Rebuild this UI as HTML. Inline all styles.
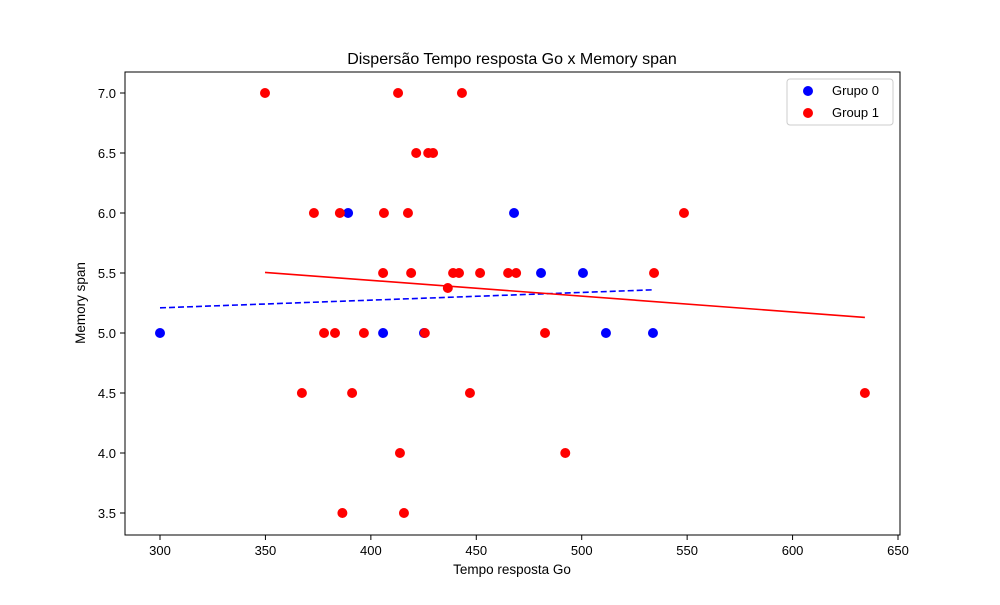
<!DOCTYPE html>
<html><head><meta charset="utf-8"><style>
body{margin:0;background:#fff;}
svg text{font-family:"Liberation Sans","DejaVu Sans",sans-serif;fill:#000;}
</style></head><body>
<svg id="chart" width="1000" height="600">
<rect x="0" y="0" width="1000" height="600" fill="#fff"/>
<text x="512" y="64" font-size="16" text-anchor="middle">Dispersão Tempo resposta Go x Memory span</text>
<g id="grid"></g>
<g id="marks"></g>
<rect x="125" y="72" width="775" height="463" fill="none" stroke="#000" stroke-width="1"/>
<text x="512" y="574" font-size="13.5" text-anchor="middle">Tempo resposta Go</text>
<text transform="translate(85,303) rotate(-90)" font-size="13.5" text-anchor="middle">Memory span</text>
<g>
<rect x="787" y="79" width="106" height="46" rx="3" fill="#fff" stroke="#ccc"/>
<circle cx="808" cy="91" r="5" fill="blue"/>
<text x="832" y="95" font-size="13">Grupo 0</text>
<circle cx="808" cy="113" r="5" fill="red"/>
<text x="832" y="117" font-size="13">Group 1</text>
</g>
</svg>
<script>
const xTicks=[300,350,400,450,500,550,600,650];
const yTicks=[3.5,4.0,4.5,5.0,5.5,6.0,6.5,7.0];
const blueX=[300,389.2,405.8,425.2,467.9,480.7,500.6,511.5,533.8];
const blueY=[5.0,6.0,5.0,5.0,6.0,5.5,5.5,5.0,5.0];
const redX=[349.8,412.9,443.2,421.5,427.2,429.5,373.0,385.3,406.2,417.6,548.5,405.8,419.1,439.0,441.8,451.8,465.1,468.9,534.3,436.5,377.8,383.0,396.7,425.6,482.6,367.3,391.1,447.0,634.3,413.8,492.2,386.5,415.7];
const redY=[7.0,7.0,7.0,6.5,6.5,6.5,6.0,6.0,6.0,6.0,6.0,5.5,5.5,5.5,5.5,5.5,5.5,5.5,5.5,5.375,5.0,5.0,5.0,5.0,5.0,4.5,4.5,4.5,4.5,4.0,4.0,3.5,3.5];
const blueFit=[5.017,0.000642];
const redFit=[5.966,-0.001318];
const sx=v=>160+(v-300)*(738/350);
const sy=v=>93+(7-v)*120;
const NS="http://www.w3.org/2000/svg";
const g=document.getElementById('grid'), m=document.getElementById('marks');
function mk(tag,attrs,parent){const e=document.createElementNS(NS,tag);for(const k in attrs)e.setAttribute(k,attrs[k]);parent.appendChild(e);return e;}
xTicks.forEach(t=>{
 const l=mk('line',{x1:sx(t),x2:sx(t),y1:535,y2:540,stroke:'#000'},g);
 
 
 const tx=mk('text',{x:sx(t),y:555,'font-size':13,'text-anchor':'middle'},g);tx.textContent=t;
 
 
});
yTicks.forEach(t=>{
 const l=mk('line',{x1:120,x2:125,y1:sy(t),y2:sy(t),stroke:'#000'},g);
 
 
 const tx=mk('text',{x:116,y:sy(t)+5,'font-size':13,'text-anchor':'end'},g);tx.textContent=t.toFixed(1);
 
 
});
function pts(xs,ys,col,name){xs.forEach((x,i)=>{const c=mk('circle',{cx:sx(x),cy:sy(ys[i]),r:5,fill:col},m);
 
 });}
pts(blueX,blueY,'blue','point-grupo-0');
pts(redX,redY,'red','point-group-1');
function fit(xs,f,col,dash,name){const a=Math.min(...xs),b=Math.max(...xs);
 const l=mk('line',{x1:sx(a),y1:sy(f[0]+f[1]*a),x2:sx(b),y2:sy(f[0]+f[1]*b),stroke:col,'stroke-width':1.6},m);
 if(dash)l.setAttribute('stroke-dasharray',dash);
 
 }
fit(blueX,blueFit,'blue','6,3','trendline-grupo-0');
fit(redX,redFit,'red',null,'trendline-group-1');
</script>
</body></html>
